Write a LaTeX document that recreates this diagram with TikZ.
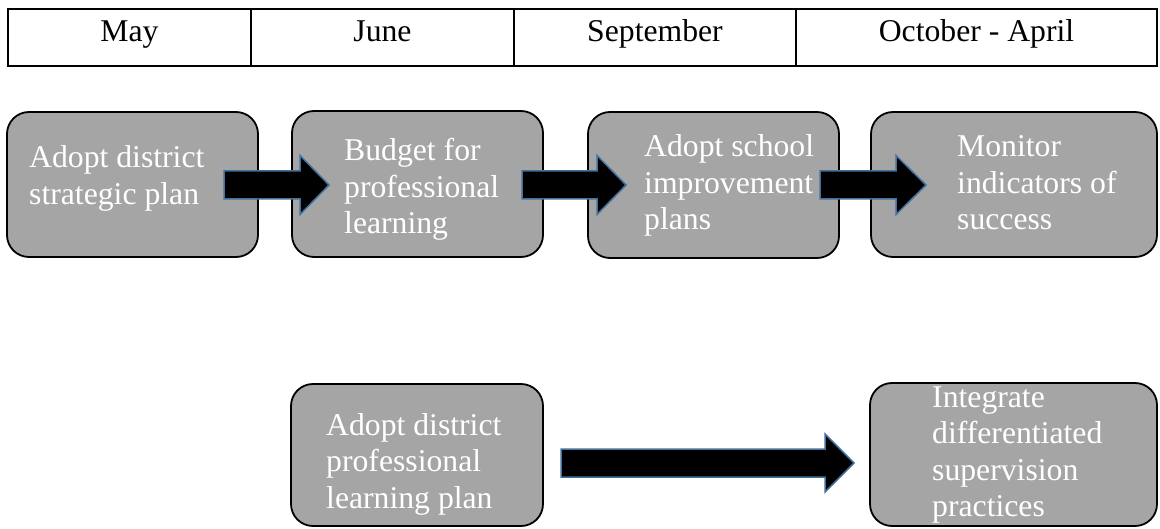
\documentclass[tikz,border=0pt]{standalone}
\usepackage{fontspec}
\setmainfont{Liberation Serif}
\usetikzlibrary{calc}
\definecolor{boxgray}{HTML}{A5A5A5}
\definecolor{arrowedge}{HTML}{41719C}
% #1 start coordinate, #2 tip coordinate, #3 head length, #4 shaft half height, #5 head half height
\newcommand\barrow[5]{%
  \path[blockarrow] ($(#1)+(0,-#4)$) -- ($(#2)+(-#3,-#4)$) -- ($(#2)+(-#3,-#5)$) -- (#2)
    -- ($(#2)+(-#3,#5)$) -- ($(#2)+(-#3,#4)$) -- ($(#1)+(0,#4)$) -- cycle;}
\begin{document}
\begin{tikzpicture}[x=1pt,y=-1pt,
  cell/.style={draw=black, line width=1.6pt, minimum height=57pt, inner sep=0pt, outer sep=0pt},
  tabtext/.style={font=\fontsize{31.7}{36.5}\selectfont, anchor=base, inner sep=0pt},
  boxnode/.style={draw=black, line width=1.8pt, fill=boxgray, rounded corners=22pt, inner sep=0pt, outer sep=0pt},
  boxtext/.style={text=white, font=\fontsize{31.7}{36.5}\selectfont, align=left, anchor=base west, inner sep=0pt},
  blockarrow/.style={fill=black, draw=arrowedge, line width=1.5pt, line join=miter}]
\useasboundingbox (0,0) rectangle (1160,529);
% timeline table
\node[cell, minimum width=243pt] (c1) at (129.5,37.5) {};
\node[cell, minimum width=263pt] (c2) at (382.5,37.5) {};
\node[cell, minimum width=282pt] (c3) at (655,37.5) {};
\node[cell, minimum width=361pt] (c4) at (976.5,37.5) {};
\node[tabtext] (m1) at (129.5,42) {May};
\node[tabtext] (m2) at (382.5,42) {June};
\node[tabtext] (m3) at (655,42) {September};
\node[tabtext] (m4) at (976.5,42) {October - April};
% boxes
\node[boxnode, minimum width=251pt, minimum height=145pt] (b1) at (132.5,184.5) {};
\node[boxnode, minimum width=251pt, minimum height=146pt] (b2) at (417.5,184) {};
\node[boxnode, minimum width=251pt, minimum height=146pt] (b3) at (713.5,185) {};
\node[boxnode, minimum width=286pt, minimum height=145pt] (b4) at (1014,184.5) {};
\node[boxnode, minimum width=252pt, minimum height=142pt] (b5) at (417,455) {};
\node[boxnode, minimum width=287pt, minimum height=143pt] (b6) at (1013.5,454.5) {};
% box texts (anchored at the baseline of the last line)
\node[boxtext] (t1) at (29,204.5) {Adopt district\\strategic plan};
\node[boxtext] (t2) at (344,234) {Budget for\\professional\\learning};
\node[boxtext] (t3) at (644,230) {Adopt school\\improvement\\plans};
\node[boxtext] (t4) at (957,230) {Monitor\\indicators of\\success};
\node[boxtext] (t5) at (326,508) {Adopt district\\professional\\learning plan};
\node[boxtext] (t6) at (932,516.5) {Integrate\\differentiated\\supervision\\practices};
% block arrows
\coordinate (a1s) at (224,185);
\coordinate (a1t) at (329,185);
\coordinate (a2s) at (522,185);
\coordinate (a2t) at (626,185);
\coordinate (a3s) at (820,185);
\coordinate (a3t) at (926,185);
\coordinate (a4s) at (561,463);
\coordinate (a4t) at (854,463);
\barrow{a1s}{a1t}{29}{14}{29.5}
\barrow{a2s}{a2t}{29}{14}{29.5}
\barrow{a3s}{a3t}{30}{14}{29.5}
\barrow{a4s}{a4t}{29}{14}{29}
\end{tikzpicture}
\end{document}
